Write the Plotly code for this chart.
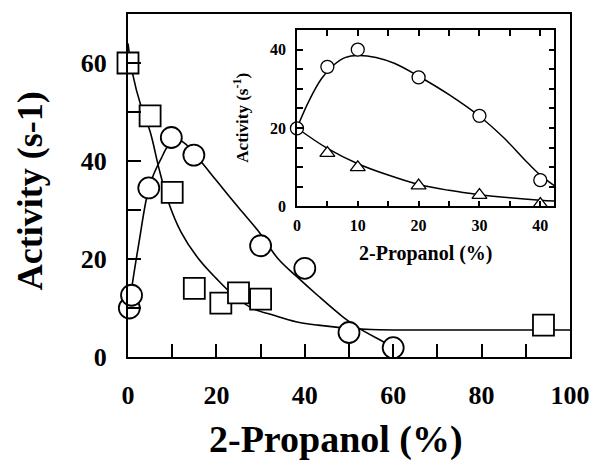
import plotly.graph_objects as go

# ---- main plot data ----
sq_x = [0, 5, 10, 15, 21, 25, 30, 94]
sq_y = [60, 49.2, 33.6, 14.0, 11.0, 13.1, 11.8, 6.5]
ci_x = [0.3, 0.8, 4.7, 9.8, 14.9, 30, 40, 50, 60]
ci_y = [10, 12.6, 34.5, 44.8, 41.2, 22.7, 18.1, 5.0, 1.9]

# fitted curves
sq_fit_x = [0, 1, 3, 5, 7, 9, 12, 16, 20, 24, 28, 33, 38, 43, 48, 55, 70, 100]
sq_fit_y = [64, 58, 51, 46, 38.5, 32, 25.5, 20, 16, 12.5, 10, 8.5, 7.2, 6.5, 6.0, 5.6, 5.5, 5.5]
ci_fit_x = [0.3, 1, 2.6, 4.2, 5.6, 7.5, 9, 11, 13, 16.6, 20, 25, 29.3, 34, 38.2, 43, 48.6, 52.2, 58.2, 60]
ci_fit_y = [10, 15, 24, 32.4, 36.8, 40.5, 43, 44.5, 43.5, 39.8, 36, 30.5, 25.9, 20, 16.4, 12.5, 8.2, 5.9, 2.9, 1.9]

# ---- inset data ----
in_ci_x = [0, 5, 10, 20, 30, 40]
in_ci_y = [19.9, 35.6, 40, 32.9, 23.1, 6.7]
in_tr_x = [5, 10, 20, 30, 40]
in_tr_y = [13.6, 9.95, 5.3, 2.9, 0.6]
in_ci_fit_x = [0, 2, 4, 6, 8, 10, 13, 16, 20, 25, 30, 34, 38, 40, 42.3]
in_ci_fit_y = [20, 27, 32.5, 36, 38, 38.5, 38, 36.5, 33.2, 28.5, 23, 17.5, 11, 8, 5.3]
in_tr_fit_x = [0, 5, 10, 15, 20, 25, 30, 35, 40, 42.3]
in_tr_fit_y = [20, 14.8, 10.9, 8, 5.6, 4.1, 3.0, 2.2, 1.6, 1.4]

FONT = "Liberation Serif"
W, H = 602, 460
L, R, T, B = 128, 24, 13, 103
PW, PH = W - L - R, H - T - B

def px_x(p):
    return (p - L) / PW

def px_y(p):
    return (H - B - p) / PH

fig = go.Figure()

line_style = dict(color="black", width=1.6, shape="spline", smoothing=1.0)
fig.add_trace(go.Scatter(x=sq_fit_x, y=sq_fit_y, mode="lines", line=line_style,
                         xaxis="x", yaxis="y", hoverinfo="skip"))
fig.add_trace(go.Scatter(x=ci_fit_x, y=ci_fit_y, mode="lines", line=line_style,
                         xaxis="x", yaxis="y", hoverinfo="skip"))
fig.add_trace(go.Scatter(x=sq_x, y=sq_y, mode="markers", cliponaxis=False,
                         marker=dict(symbol="square", size=21, color="white",
                                     line=dict(color="black", width=1.8)),
                         xaxis="x", yaxis="y"))
fig.add_trace(go.Scatter(x=ci_x, y=ci_y, mode="markers", cliponaxis=False,
                         marker=dict(symbol="circle", size=21, color="white",
                                     line=dict(color="black", width=1.8)),
                         xaxis="x", yaxis="y"))

inline_style = dict(color="black", width=1.5, shape="spline", smoothing=1.0)
fig.add_trace(go.Scatter(x=in_ci_fit_x, y=in_ci_fit_y, mode="lines", line=inline_style,
                         xaxis="x2", yaxis="y2", hoverinfo="skip"))
fig.add_trace(go.Scatter(x=in_tr_fit_x, y=in_tr_fit_y, mode="lines", line=inline_style,
                         xaxis="x2", yaxis="y2", hoverinfo="skip"))
fig.add_trace(go.Scatter(x=in_tr_x, y=in_tr_y, mode="markers", cliponaxis=False,
                         marker=dict(symbol="triangle-up", size=13, color="white",
                                     line=dict(color="black", width=1.3)),
                         xaxis="x2", yaxis="y2"))
fig.add_trace(go.Scatter(x=in_ci_x, y=in_ci_y, mode="markers", cliponaxis=False,
                         marker=dict(symbol="circle", size=13, color="white",
                                     line=dict(color="black", width=1.3)),
                         xaxis="x2", yaxis="y2"))

main_tick = dict(family=FONT, size=26, color="black", weight="bold")
in_tick = dict(family=FONT, size=16, color="black", weight="bold")

fig.update_layout(
    width=W, height=H,
    margin=dict(l=L, r=R, t=T, b=B),
    paper_bgcolor="white", plot_bgcolor="white",
    showlegend=False,
    xaxis=dict(range=[0, 100], dtick=20, ticks="inside", ticklen=13, tickwidth=2,
               tickcolor="black", showline=True, linecolor="black", linewidth=2,
               mirror=True, showgrid=False, zeroline=False, tickfont=main_tick,
               ticklabelstandoff=14,
               minor=dict(dtick=10, ticks="inside", ticklen=13, tickwidth=2,
                          tickcolor="black", showgrid=False)),
    yaxis=dict(range=[0, 70], dtick=20, ticks="inside", ticklen=13, tickwidth=2,
               tickcolor="black", showline=True, linecolor="black", linewidth=2,
               mirror=True, showgrid=False, zeroline=False, tickfont=main_tick,
               ticklabelstandoff=14,
               minor=dict(dtick=10, ticks="inside", ticklen=13, tickwidth=2,
                          tickcolor="black", showgrid=False)),
    xaxis2=dict(domain=[px_x(300), px_x(562)], anchor="y2", range=[0, 42.3],
                dtick=10, ticks="inside", ticklen=6, tickwidth=1.5, tickcolor="black",
                showline=True, linecolor="black", linewidth=1.5, mirror="allticks",
                showgrid=False, zeroline=False, tickfont=in_tick, ticklabelstandoff=4,
                minor=dict(dtick=5, ticks="inside", ticklen=6, tickwidth=1.5,
                           tickcolor="black", showgrid=False)),
    yaxis2=dict(domain=[px_y(206), px_y(29)], anchor="x2", range=[0, 45],
                dtick=20, ticks="inside", ticklen=6, tickwidth=1.5, tickcolor="black",
                showline=True, linecolor="black", linewidth=1.5, mirror="allticks",
                showgrid=False, zeroline=False, tickfont=in_tick, ticklabelstandoff=6,
                minor=dict(dtick=5, ticks="inside", ticklen=6, tickwidth=1.5,
                           tickcolor="black", showgrid=False)),
)

annots = [
    dict(text="Activity (s-1)", x=px_x(29), y=px_y(190), textangle=-90,
         font=dict(family=FONT, size=36, color="black", weight="bold")),
    dict(text="2-Propanol (%)", x=px_x(340), y=px_y(440),
         font=dict(family=FONT, size=38, color="black", weight="bold")),
    dict(text="Activity (s<sup>-1</sup>)", x=px_x(243), y=px_y(117), textangle=-90,
         font=dict(family=FONT, size=17, color="black", weight="bold")),
    dict(text="2-Propanol (%)", x=px_x(431), y=px_y(253),
         font=dict(family=FONT, size=20, color="black", weight="bold")),
]
for a in annots:
    fig.add_annotation(xref="paper", yref="paper", showarrow=False,
                       xanchor="center", yanchor="middle", **a)

fig.write_html("out.html")
